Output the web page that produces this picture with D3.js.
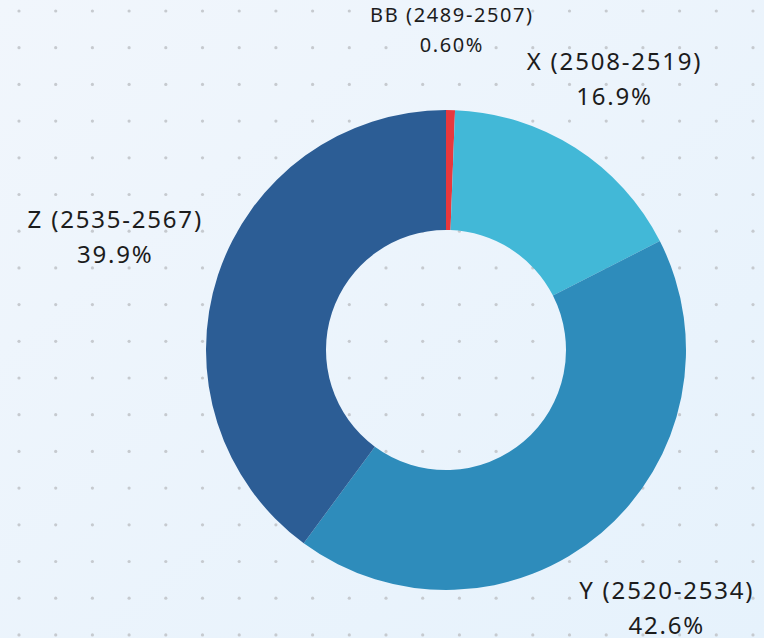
<!DOCTYPE html>
<html>
<head>
<meta charset="utf-8">
<script src="https://cdn.jsdelivr.net/npm/d3@7"></script>
<style>
  html, body { margin: 0; padding: 0; }
  body { width: 764px; height: 638px; overflow: hidden; }
  svg { display: block; }
</style>
</head>
<body>
<div id="plot-container"></div>
<script>
'use strict';
// Chart data
const categories = ["BB", "X", "Y", "Z"];
const ranges = ["2489-2507", "2508-2519", "2520-2534", "2535-2567"];
const shares = [0.60, 16.9, 42.6, 39.9];
const shareLabels = ["0.60%", "16.9%", "42.6%", "39.9%"];
const colors = ["#e8383d", "#42b8d7", "#2e8cbb", "#2c5d95"];

(function () {
  const width = 764, height = 638;
  const cx = 446, cy = 350;
  const outerR = 240, innerR = 120;

  const svg = d3.select("#plot-container").append("svg")
    .attr("width", width)
    .attr("height", height);

  // background gradient + dot grid
  const defs = svg.append("defs");
  const grad = defs.append("linearGradient")
    .attr("id", "bg")
    .attr("x1", "0").attr("y1", "0").attr("x2", "1").attr("y2", "1");
  grad.append("stop").attr("offset", "0%").attr("stop-color", "#f1f6fc");
  grad.append("stop").attr("offset", "100%").attr("stop-color", "#e6f2fc");
  svg.append("rect").attr("width", width).attr("height", height).attr("fill", "url(#bg)");

  const step = 36.7;
  const dots = [];
  for (let y = 11; y < height; y += step) {
    for (let x = 19; x < width; x += step) dots.push([x, y]);
  }
  svg.append("g").selectAll("circle").data(dots).join("circle")
    .attr("cx", d => d[0]).attr("cy", d => d[1])
    .attr("r", 1.6).attr("fill", "#c6cacf");

  const rows = categories.map((c, i) => ({
    name: c, range: ranges[i], value: shares[i], label: shareLabels[i], color: colors[i]
  }));

  const pie = d3.pie().value(d => d.value).sort(null);
  const arcs = pie(rows);
  const arc = d3.arc().innerRadius(innerR).outerRadius(outerR);

  const g = svg.append("g").attr("transform", `translate(${cx},${cy})`);
  g.selectAll("path").data(arcs).join("path")
    .attr("d", arc)
    .attr("fill", d => d.data.color);

  // labels: pushed outward along the mid angle, a bit further at left and bottom
  const labels = g.selectAll("g.lbl").data(arcs).join("g")
    .attr("class", "lbl")
    .attr("transform", d => {
      const a = (d.startAngle + d.endAngle) / 2;
      const r = 313 + 37 * Math.max(0, -Math.cos(a)) + 37 * Math.max(0, -Math.sin(a));
      const drop = 6 * (1 - Math.max(0, Math.cos(a)));
      return `translate(${r * Math.sin(a)},${-r * Math.cos(a) + drop})`;
    });

  labels.each(function (d) {
    const small = d.data.value < 2;
    const fs = small ? 20 : 24;
    const lh = small ? 30 : 35;
    const sel = d3.select(this);
    const t = sel.append("text")
      .attr("text-anchor", "middle")
      .style("font-family", "'Noto Sans', sans-serif")
      .style("font-size", fs + "px")
      .style("letter-spacing", small ? "1.6px" : "1.8px")
      .attr("fill", "#1c1c1c");
    t.append("tspan").attr("x", 0).attr("y", -lh / 2)
      .text(`${d.data.name} (${d.data.range})`);
    t.append("tspan").attr("x", 0).attr("y", lh / 2)
      .text(d.data.label);
  });
})();
</script>
</body>
</html>
